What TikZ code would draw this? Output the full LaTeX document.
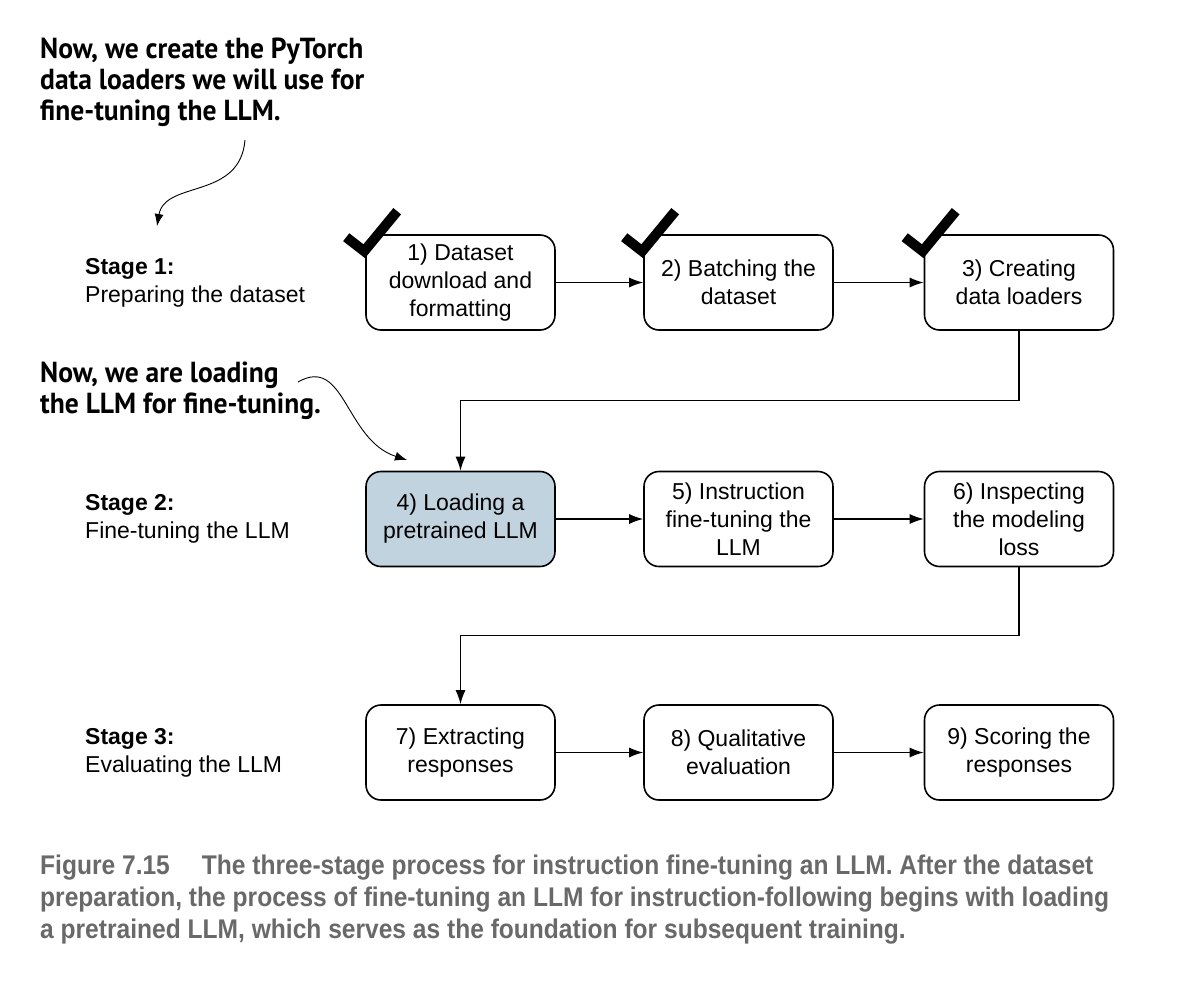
\documentclass[tikz,border=0pt]{standalone}
\usepackage{fontspec}
\setmainfont{Liberation Sans}
\newfontfamily\notefont{PT Sans}[FakeStretch=0.95]
\newfontfamily\capfont{Liberation Sans}[FakeStretch=0.91]
\usepackage{tikz}
\usetikzlibrary{shapes, arrows, arrows.meta, positioning}
\definecolor{loadblue}{RGB}{193,211,222}
\definecolor{capgray}{RGB}{105,105,105}
\newcommand{\stepfont}{\fontsize{23}{28}\selectfont}
\tikzstyle{stepbox} = [rectangle, draw, rounded corners=15pt, line width=1.6pt, minimum width=189pt, minimum height=95pt, align=center, font=\stepfont]
\tikzstyle{stage} = [anchor=west, align=left, inner sep=0pt, font=\stepfont]
\tikzstyle{note} = [anchor=north west, align=left, inner sep=0pt, font=\notefont\bfseries\fontsize{29}{31}\selectfont]
\tikzstyle{flow} = [draw, line width=1.3pt, -{Latex[length=14pt, width=10pt]}]
\tikzstyle{hint} = [draw, line width=0.9pt, -{Latex[length=12pt, width=9pt]}]
\tikzstyle{tick} = [draw, line width=10pt, miter limit=4]

\begin{document}
\begin{tikzpicture}[x=1pt, y=-1pt]
			\path [fill=white] (0, 0) rectangle (1198, 982);
			\useasboundingbox (0, 0) rectangle (1198, 982);
			
			% stage labels
			\node [stage] (s1) at (85, 282.5) {\textbf{Stage 1:}\\Preparing the dataset};
			\node [stage] (s2) at (85, 519) {\textbf{Stage 2:}\\Fine-tuning the LLM};
			\node [stage] (s3) at (85, 752.5) {\textbf{Stage 3:}\\Evaluating the LLM};
			
			% steps
			\node [stepbox] (b1) at (460.5, 282.5) {1) Dataset\\download and\\formatting};
			\node [stepbox] (b2) at (738.5, 282.5) {2) Batching the\\dataset};
			\node [stepbox] (b3) at (1019, 282.5) {3) Creating\\data loaders};
			\node [stepbox, fill=loadblue] (b4) at (460.5, 519) {4) Loading a\\pretrained LLM};
			\node [stepbox] (b5) at (738.5, 519) {5) Instruction\\fine-tuning the\\LLM};
			\node [stepbox] (b6) at (1019, 519) {6) Inspecting\\the modeling\\loss};
			\node [stepbox] (b7) at (460.5, 752.5) {7) Extracting\\responses};
			\node [stepbox] (b8) at (738.5, 752.5) {8) Qualitative\\evaluation};
			\node [stepbox] (b9) at (1019, 752.5) {9) Scoring the\\responses};
			
			\path [flow] (b1) -- (b2);
			\path [flow] (b2) -- (b3);
			\path [flow] (b3.south) -- ++(0, 70) -| (b4.north);
			\path [flow] (b4) -- (b5);
			\path [flow] (b5) -- (b6);
			\path [flow] (b6.south) -- ++(0, 68) -| (b7.north);
			\path [flow] (b7) -- (b8);
			\path [flow] (b8) -- (b9);
			
			% done marks
			\foreach \b in {b1, b2, b3}
				\path [tick] ([shift={(-19, 3)}]\b.north west) -- ([shift={(-1, 17)}]\b.north west) -- ([shift={(32, -23)}]\b.north west);
			
			% notes
			\node [note] (n1) at (40, 38) {Now, we create the PyTorch\\data loaders we will use for\\fine-tuning the LLM.};
			\node [note] (n2) at (40, 362) {Now, we are loading\\the LLM for fine-tuning.};
			\coordinate (n1end) at (245, 140);
			\coordinate (s1top) at (157, 226);
			\coordinate (n2end) at (298, 382);
			\coordinate (b4top) at (407, 460);
			\path [hint] (n1end) .. controls (240, 200) and (165, 180) .. (s1top);
			\path [hint] (n2end) .. controls (345, 355) and (345, 440) .. (b4top);
			
			% caption
			\node [anchor=north west, align=left, inner sep=0pt, text=capgray, font=\capfont\bfseries\fontsize{27}{32}\selectfont] (cap) at (40, 855) {Figure 7.15\hspace{32pt}The three-stage process for instruction fine-tuning an LLM. After the dataset\\preparation, the process of fine-tuning an LLM for instruction-following begins with loading\\a pretrained LLM, which serves as the foundation for subsequent training.};
		\end{tikzpicture}
\end{document}
